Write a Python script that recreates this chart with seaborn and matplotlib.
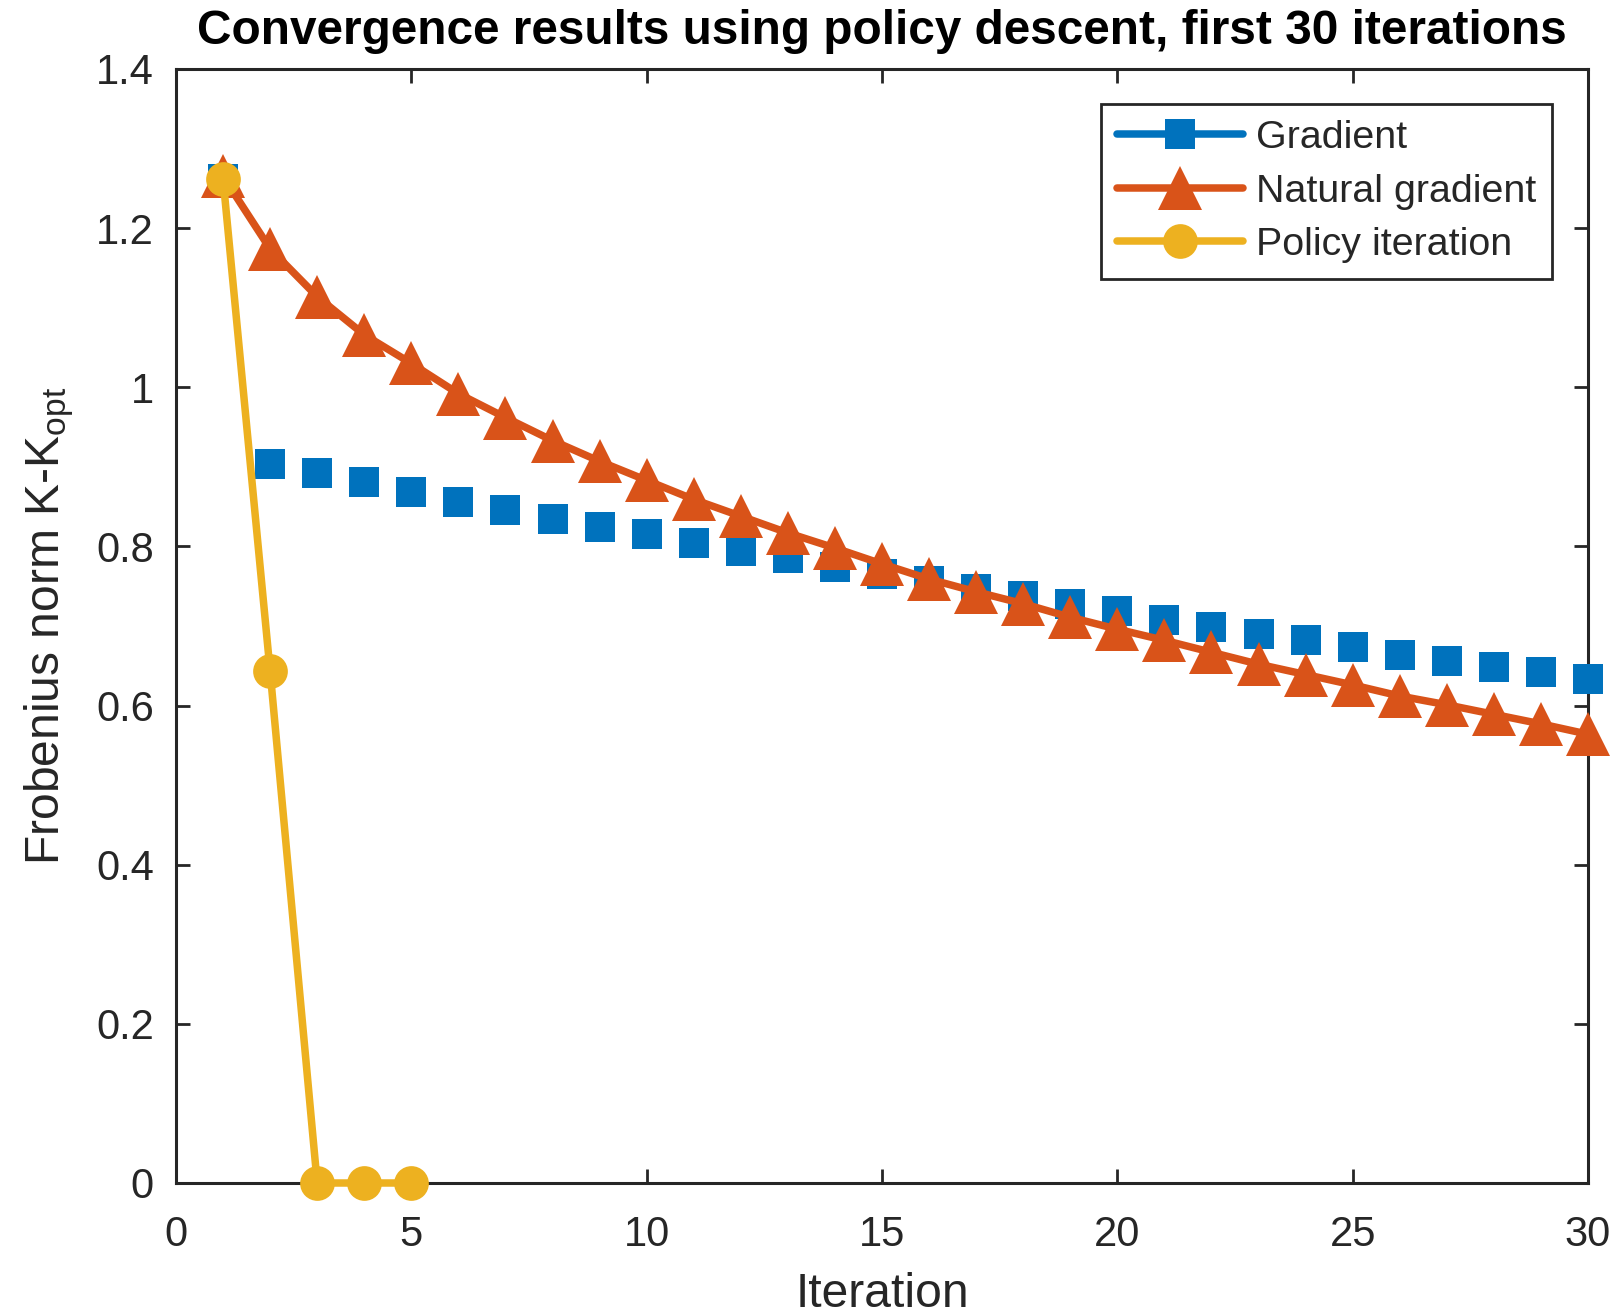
import numpy as np
import pandas as pd
import matplotlib
matplotlib.use("Agg")
import matplotlib.pyplot as plt
from matplotlib.lines import Line2D
import seaborn as sns

iterations = list(range(1, 31))
gradient = [1.262, 0.904, 0.892, 0.881, 0.868, 0.856, 0.846, 0.835, 0.824, 0.815,
            0.804, 0.794, 0.785, 0.774, 0.765, 0.756, 0.747, 0.738, 0.728, 0.719,
            0.708, 0.699, 0.690, 0.682, 0.673, 0.664, 0.656, 0.649, 0.642, 0.633]
natural_gradient = [1.265, 1.174, 1.114, 1.066, 1.030, 0.992, 0.962, 0.933, 0.907, 0.883,
                    0.859, 0.838, 0.817, 0.798, 0.778, 0.759, 0.743, 0.728, 0.711, 0.696,
                    0.682, 0.667, 0.652, 0.639, 0.626, 0.612, 0.601, 0.589, 0.577, 0.564]
policy_iter_x = [1, 2, 3, 4, 5]
policy_iteration = [1.262, 0.643, 0.0, 0.0, 0.0]

series_names = ["Gradient", "Natural gradient", "Policy iteration"]
x_ticks = [0, 5, 10, 15, 20, 25, 30]
y_ticks = [0, 0.2, 0.4, 0.6, 0.8, 1.0, 1.2, 1.4]
y_tick_labels = ["0", "0.2", "0.4", "0.6", "0.8", "1", "1.2", "1.4"]
title = "Convergence results using policy descent, first 30 iterations"
xlabel = "Iteration"
ylabel = "Frobenius norm K-K$_{\\mathrm{opt}}$"

sns.set_theme(style="white")
plt.rcParams["font.family"] = ["Liberation Sans", "DejaVu Sans"]
plt.rcParams["mathtext.fontset"] = "custom"
plt.rcParams["mathtext.rm"] = "Liberation Sans"
plt.rcParams["mathtext.it"] = "Liberation Sans:italic"
plt.rcParams["mathtext.bf"] = "Liberation Sans:bold"

c_blue = "#0072BD"
c_orange = "#D95319"
c_yellow = "#EDB120"
dark = "#262626"

fig = plt.figure(figsize=(1621 / 200, 1316 / 200), dpi=200)
ax = fig.add_axes([176 / 1621, 1 - 1183 / 1316, (1588 - 176) / 1621, (1183 - 69) / 1316])

df_g = pd.DataFrame({"x": iterations, "y": gradient})
df_n = pd.DataFrame({"x": iterations, "y": natural_gradient})
df_p = pd.DataFrame({"x": policy_iter_x, "y": policy_iteration})

sns.scatterplot(data=df_g, x="x", y="y", ax=ax, marker="s", s=10.5 ** 2,
                color=c_blue, linewidth=0, zorder=3, legend=False, clip_on=False)
sns.lineplot(data=df_n, x="x", y="y", ax=ax, color=c_orange, linewidth=2.7,
             marker="^", markersize=16, markeredgewidth=0, zorder=4, legend=False,
             clip_on=False)
sns.lineplot(data=df_p, x="x", y="y", ax=ax, color=c_yellow, linewidth=2.7,
             marker="o", markersize=12.5, markeredgewidth=0, zorder=5, legend=False,
             clip_on=False)

ax.set_xlim(0, 30)
ax.set_ylim(0, 1.4)
ax.set_xticks(x_ticks)
ax.set_xticklabels([str(t) for t in x_ticks])
ax.set_yticks(y_ticks)
ax.set_yticklabels(y_tick_labels)

ax.tick_params(direction="in", length=5, width=1.0, colors=dark, labelsize=15,
               top=True, right=True, bottom=True, left=True, pad=8)
ax.tick_params(axis="x", pad=11.5)
for s in ax.spines.values():
    s.set_visible(True)
    s.set_color(dark)
    s.set_linewidth(1.1)
    s.set_zorder(2)

ax.set_xlabel(xlabel, fontsize=17.3, color=dark, labelpad=6)
ax.set_ylabel(ylabel, fontsize=17.3, color=dark, labelpad=7)
ax.set_title(title, fontsize=17.2, fontweight="bold", color="black", pad=9)

handles = [
    Line2D([], [], color=c_blue, linewidth=2.7, marker="s", markersize=10.5, markeredgewidth=0),
    Line2D([], [], color=c_orange, linewidth=2.7, marker="^", markersize=16, markeredgewidth=0),
    Line2D([], [], color=c_yellow, linewidth=2.7, marker="o", markersize=12.5, markeredgewidth=0),
]
leg = ax.legend(handles, series_names, loc="upper right", bbox_to_anchor=(0.9745, 0.9686),
                fontsize=14.2, frameon=True, fancybox=False, framealpha=1,
                edgecolor=dark, handlelength=3.2, handletextpad=0.32,
                labelspacing=0.45, borderpad=0.4, borderaxespad=0)
leg.get_frame().set_linewidth(1.0)

fig.savefig("out.png", dpi=200)
